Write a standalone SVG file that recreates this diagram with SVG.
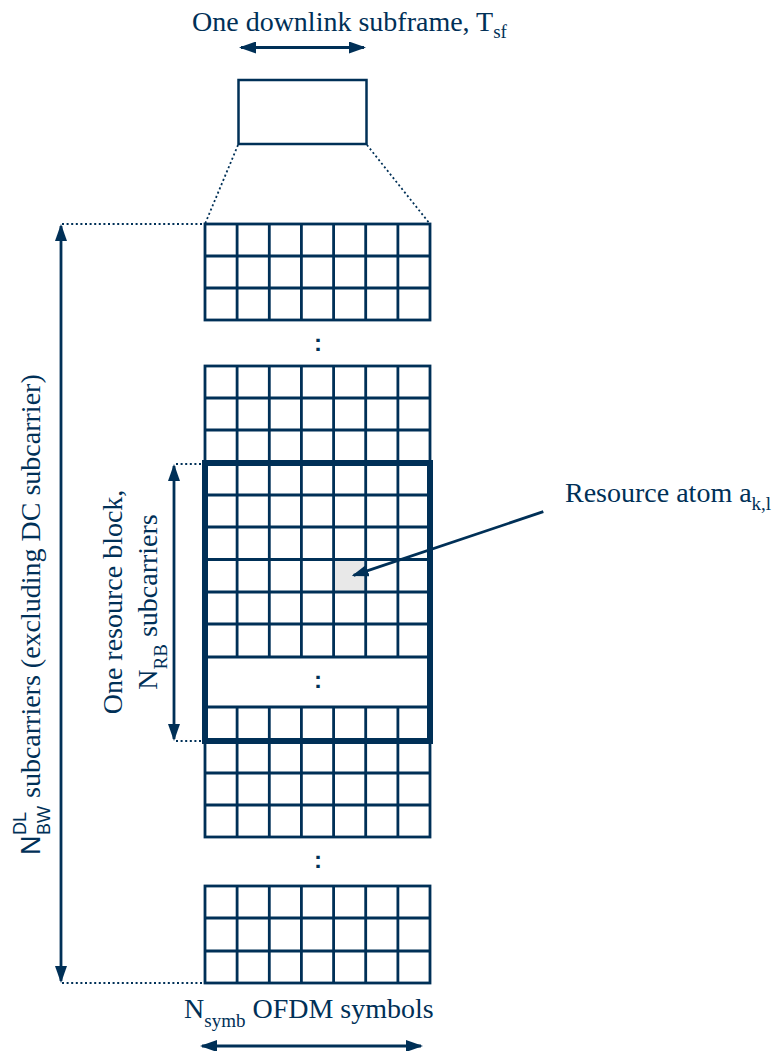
<svg xmlns="http://www.w3.org/2000/svg" width="778" height="1051" viewBox="0 0 778 1051">
  <defs>
    <style>
      .ink { stroke: #003057; fill: none; }
      .grid { stroke: #003057; stroke-width: 2.8; fill: none; }
      .thick { stroke: #003057; stroke-width: 6; fill: none; }
      .dot { stroke: #003057; stroke-width: 1.8; stroke-dasharray: 2 2.6; fill: none; }
      .arrow { stroke: #003057; stroke-width: 2.8; fill: none; marker-end: url(#head); }
      .darrow { stroke: #003057; stroke-width: 2.8; fill: none; marker-start: url(#head); marker-end: url(#head); }
      .serif { font-size: 28px; fill: #003057; }
      .sans { fill: #003057; }
      .colon { font-weight: bold; font-size: 24px; fill: #003057; text-anchor: middle; }
    </style>
    <marker id="head" viewBox="0 0 17 12" markerWidth="17" markerHeight="12" refX="15" refY="6" orient="auto-start-reverse" markerUnits="userSpaceOnUse">
      <path d="M0,0 L17,6 L0,12 z" fill="#003057"/>
    </marker>
  </defs>

  <!-- subframe duration label and box -->
  <g id="subframe-label">
    <text class="serif" font-family="'Liberation Serif', 'DejaVu Serif', serif" x="192" y="31">One downlink subframe, T<tspan font-size="19" dy="6.5">sf</tspan></text>
  </g>
  <g id="subframe-box">
    <rect class="ink" x="238.5" y="80" width="128" height="64" stroke-width="2.5"/>
  </g>

  <!-- top group of subcarriers -->
  <g id="block-top">
    <rect class="grid" x="205" y="224" width="225" height="96"/>
    <path class="grid" d="M205,256H430M205,288H430
      M237.1,224V320M269.3,224V320M301.4,224V320M333.6,224V320M365.7,224V320M397.9,224V320"/>
    <text class="colon" font-family="'Liberation Sans', sans-serif" x="318" y="351">:</text>
  </g>

  <!-- group above the resource block -->
  <g id="block-upper">
    <rect class="grid" x="205" y="366" width="225" height="97"/>
    <path class="grid" d="M205,398H430M205,430H430
      M237.1,366V463M269.3,366V463M301.4,366V463M333.6,366V463M365.7,366V463M397.9,366V463"/>
  </g>

  <!-- one resource block with a highlighted resource atom -->
  <g id="resource-block">
    <rect id="resource-atom" x="333.6" y="559.5" width="32.1" height="32.5" fill="#e8e8e8"/>
    <path class="grid" d="M205,495H430M205,527H430M205,559.5H430M205,592H430M205,624H430M205,657H430M205,707H430
      M237.1,463V657M269.3,463V657M301.4,463V657M333.6,463V657M365.7,463V657M397.9,463V657
      M237.1,707V741M269.3,707V741M301.4,707V741M333.6,707V741M365.7,707V741M397.9,707V741"/>
    <text class="colon" font-family="'Liberation Sans', sans-serif" x="318" y="688">:</text>
    <rect class="thick" x="205" y="463" width="225" height="278"/>
  </g>

  <!-- group below the resource block -->
  <g id="block-lower">
    <rect class="grid" x="205" y="741" width="225" height="96"/>
    <path class="grid" d="M205,773H430M205,805H430
      M237.1,741V837M269.3,741V837M301.4,741V837M333.6,741V837M365.7,741V837M397.9,741V837"/>
    <text class="colon" font-family="'Liberation Sans', sans-serif" x="318" y="867.5">:</text>
  </g>

  <!-- bottom group of subcarriers -->
  <g id="block-bottom">
    <rect class="grid" x="205" y="886" width="225" height="97"/>
    <path class="grid" d="M205,918H430M205,951H430
      M237.1,886V983M269.3,886V983M301.4,886V983M333.6,886V983M365.7,886V983M397.9,886V983"/>
  </g>

  <!-- axis labels -->
  <g id="bandwidth-label" transform="translate(40,855) rotate(-90)">
    <text class="sans" font-family="'Liberation Sans', sans-serif" x="0" y="0" font-size="27">N</text>
    <text class="sans" font-family="'Liberation Sans', sans-serif" x="20" y="-14" font-size="18">DL</text>
    <text class="sans" font-family="'Liberation Sans', sans-serif" x="20" y="10" font-size="18">BW</text>
    <text class="serif" font-family="'Liberation Serif', 'DejaVu Serif', serif" x="57" y="0">subcarriers (excluding DC subcarrier)</text>
  </g>
  <g id="rb-label" transform="translate(122,602) rotate(-90)">
    <text class="serif" font-family="'Liberation Serif', 'DejaVu Serif', serif" x="0" y="0" text-anchor="middle">One resource block,</text>
    <text class="serif" font-family="'Liberation Serif', 'DejaVu Serif', serif" x="0" y="35" text-anchor="middle">N<tspan font-size="19" dy="10">RB</tspan><tspan dy="-10"> subcarriers</tspan></text>
  </g>
  <g id="atom-label">
    <text class="serif" font-family="'Liberation Serif', 'DejaVu Serif', serif" x="565" y="502">Resource atom a<tspan font-size="19" dy="7.5">k,l</tspan></text>
  </g>
  <g id="symbols-label">
    <text class="serif" font-family="'Liberation Serif', 'DejaVu Serif', serif" x="184" y="1018">N<tspan font-size="19" dy="8.5">symb</tspan><tspan dy="-8.5"> OFDM symbols</tspan></text>
  </g>

  <!-- connectors: dimension arrows, pointer and dotted leaders -->
  <g id="connectors">
    <path class="darrow" d="M241,47.5H364"/>
    <path class="darrow" d="M61,226V981"/>
    <path class="darrow" d="M174,466V739"/>
    <path class="darrow" d="M202,1046H421"/>
    <path class="arrow" d="M543.3,511.7L353.6,575.4"/>
    <path class="dot" d="M238,145L205,224M367,145L430,224"/>
    <path class="dot" d="M62,224H205M62,983H205"/>
    <path class="dot" d="M176,464H205M176,741H205"/>
  </g>
</svg>
